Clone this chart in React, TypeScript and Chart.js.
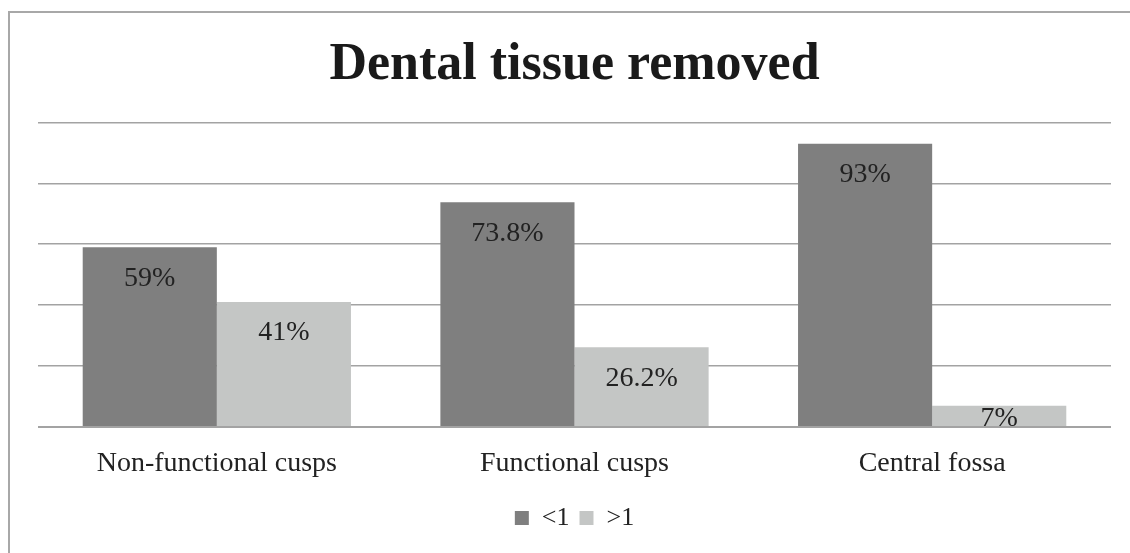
import React, { useEffect, useRef } from "react";
import { Chart, registerables } from "chart.js";

Chart.register(...registerables);

const categories = ["Non-functional cusps", "Functional cusps", "Central fossa"];
const seriesNames = ["<1", ">1"];
const lessThanOne = [59, 73.8, 93];
const moreThanOne = [41, 26.2, 7];
const yTicks = [0, 20, 40, 60, 80, 100];

const SERIF = "'Liberation Serif', 'Times New Roman', serif";
const DARK = "#7f7f7f";
const LIGHT = "#c4c6c5";
const GRID = "#a3a3a3";

const valueLabelPlugin = {
  id: "valueLabels",
  afterDatasetsDraw(chart: any) {
    const ctx = chart.ctx;
    ctx.save();
    ctx.font = `28px ${SERIF}`;
    ctx.fillStyle = "#222222";
    ctx.textAlign = "center";
    ctx.textBaseline = "middle";
    chart.data.datasets.forEach((ds: any, di: number) => {
      const meta = chart.getDatasetMeta(di);
      meta.data.forEach((bar: any, i: number) => {
        const v = ds.data[i];
        const { x, y, base } = bar.getProps(["x", "y", "base"], true);
        const h = base - y;
        const ty = h < 60 ? y + h / 2 + 3 : y + 31;
        ctx.fillText(`${v}%`, x, ty);
      });
    });
    ctx.restore();
  },
};

export default function App() {
  const ref = useRef<HTMLCanvasElement | null>(null);

  useEffect(() => {
    if (!ref.current) return;
    const chart = new Chart(ref.current, {
      type: "bar",
      data: {
        labels: categories,
        datasets: [
          {
            label: seriesNames[0],
            data: lessThanOne,
            backgroundColor: DARK,
            borderWidth: 0,
            categoryPercentage: 0.75,
            barPercentage: 1,
          },
          {
            label: seriesNames[1],
            data: moreThanOne,
            backgroundColor: LIGHT,
            borderWidth: 0,
            categoryPercentage: 0.75,
            barPercentage: 1,
          },
        ],
      },
      options: {
        responsive: false,
        animation: false,
        layout: { padding: { left: 28, right: 29, top: 0, bottom: 12 } },
        plugins: {
          title: {
            display: true,
            text: "Dental tissue removed",
            color: "#1a1a1a",
            font: { family: SERIF, size: 52, weight: "bold" },
            padding: { top: 21, bottom: 26 },
          },
          legend: {
            display: true,
            position: "bottom",
            labels: {
              boxWidth: 14,
              boxHeight: 14,
              color: "#222222",
              font: { family: SERIF, size: 26 },
              padding: 10,
            },
          },
          tooltip: { enabled: false },
        },
        scales: {
          x: {
            grid: { display: false },
            border: { display: false },
            ticks: {
              color: "#222222",
              font: { family: SERIF, size: 28 },
              padding: 12,
            },
            afterFit: (scale: any) => {
              scale.height = 68;
            },
          },
          y: {
            min: 0,
            max: 100,
            afterBuildTicks: (scale: any) => {
              scale.ticks = yTicks.map((v) => ({ value: v }));
            },
            ticks: { display: false },
            border: { display: false },
            grid: {
              color: GRID,
              lineWidth: (c: any) => (c.tick && c.tick.value === 0 ? 2 : 1.5),
              drawTicks: false,
            },
          },
        },
      },
      plugins: [valueLabelPlugin],
    });
    return () => chart.destroy();
  }, []);

  return (
    <div
      style={{
        position: "fixed",
        left: 8,
        top: 11,
        width: 1140,
        height: 560,
        borderLeft: "2px solid #a8a8a8",
        borderTop: "2px solid #a8a8a8",
        background: "#ffffff",
      }}
    >
      <canvas
        ref={ref}
        width={1130}
        height={540}
        style={{ display: "block", width: 1130, height: 540 }}
      />
    </div>
  );
}
